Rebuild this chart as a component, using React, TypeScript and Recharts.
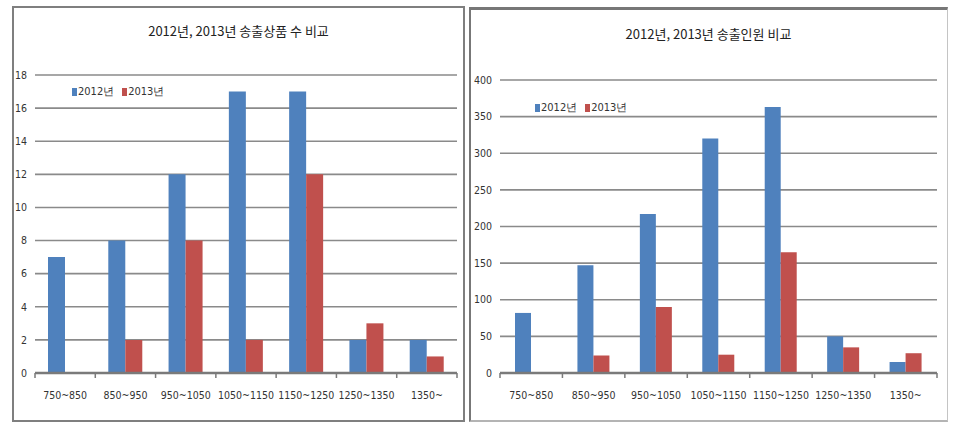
import React from 'react'
import { BarChart, Bar, XAxis, YAxis, CartesianGrid } from 'recharts'

const BLUE = '#4F81BD'
const RED = '#C0504D'
const GRID = '#8a8a8a'
const AXIS = '#7a7a7a'
const TEXT = '#333333'
const TICK_FONT = '"DejaVu Sans Condensed", "Liberation Sans Narrow", sans-serif'
const KR_FONT = '"Noto Sans CJK KR", sans-serif'

const categories = ['750~850', '850~950', '950~1050', '1050~1150', '1150~1250', '1250~1350', '1350~']

const products2012 = [7, 8, 12, 17, 17, 2, 2]
const products2013 = [0, 2, 8, 2, 12, 3, 1]
const productTicks = [0, 2, 4, 6, 8, 10, 12, 14, 16, 18]

const people2012 = [82, 147, 217, 320, 363, 50, 15]
const people2013 = [0, 24, 90, 25, 165, 35, 27]
const peopleTicks = [0, 50, 100, 150, 200, 250, 300, 350, 400]

const seriesNames = ['2012년', '2013년']

function buildRows(a: number[], b: number[]) {
  return categories.map((name, i) => ({ name, y2012: a[i], y2013: b[i] }))
}

function CategoryTick(props: any) {
  const { x, y, payload, index, visibleTicksCount } = props
  const off = payload?.offset ?? 0
  return (
    <g>
      <line x1={x - off} x2={x - off} y1={y} y2={y + 5} stroke={AXIS} strokeWidth={1.5} />
      {index === visibleTicksCount - 1 && (
        <line x1={x + off} x2={x + off} y1={y} y2={y + 5} stroke={AXIS} strokeWidth={1.5} />
      )}
      <text x={x} y={y + 26} textAnchor="middle" fontSize={10.5} fill={TEXT} fontFamily={TICK_FONT}>
        {payload.value}
      </text>
    </g>
  )
}

function MiniLegend({ left, top }: { left: number; top: number }) {
  const colors = [BLUE, RED]
  return (
    <div
      style={{
        position: 'absolute',
        left,
        top,
        display: 'flex',
        gap: 8,
        fontFamily: TICK_FONT,
        fontSize: 11,
        color: TEXT,
        lineHeight: '12px',
      }}
    >
      {seriesNames.map((n, i) => (
        <div key={n} style={{ display: 'flex', alignItems: 'center', gap: 1 }}>
          <span style={{ width: 5, height: 8, background: colors[i], display: 'inline-block' }} />
          <span>{n}</span>
        </div>
      ))}
    </div>
  )
}

interface PanelProps {
  left: number
  top: number
  width: number
  height: number
  title: string
  titleTop: number
  rows: Record<string, unknown>[]
  domainMax: number
  ticks: number[]
  yWidth: number
  margin: { top: number; right: number; bottom: number; left: number }
  barSize: number
  legend: { left: number; top: number }
  boxStyle: React.CSSProperties
}

function Panel(p: PanelProps) {
  return (
    <>
      <div
        style={{
          position: 'absolute',
          left: p.left,
          top: p.top,
          width: p.width,
          height: p.height,
          boxSizing: 'border-box',
          ...p.boxStyle,
        }}
      />
      <div style={{ position: 'absolute', left: p.left, top: p.top, width: p.width, height: p.height }}>
        <div
          style={{
            position: 'absolute',
            top: p.titleTop,
            left: 0,
            width: p.width,
            textAlign: 'center',
            fontFamily: KR_FONT,
            fontSize: 13,
            color: '#222',
          }}
        >
          {p.title}
        </div>
        <BarChart width={p.width} height={p.height} data={p.rows} margin={p.margin} barGap={0}>
          <CartesianGrid vertical={false} stroke={GRID} strokeWidth={1.6} />
          <XAxis
            dataKey="name"
            tick={<CategoryTick />}
            tickLine={false}
            tickSize={0}
            tickMargin={0}
            axisLine={{ stroke: AXIS, strokeWidth: 2.5 }}
            interval={0}
            height={30}
          />
          <YAxis
            domain={[0, p.domainMax]}
            ticks={p.ticks}
            width={p.yWidth}
            axisLine={false}
            tickLine={false}
            tickSize={0}
            tickMargin={8}
            interval={0}
            tick={{ fontSize: 10.5, fill: TEXT, fontFamily: TICK_FONT }}
          />
          <Bar dataKey="y2012" fill={BLUE} barSize={p.barSize} isAnimationActive={false} />
          <Bar dataKey="y2013" fill={RED} barSize={p.barSize} isAnimationActive={false} />
        </BarChart>
        <MiniLegend left={p.legend.left} top={p.legend.top} />
      </div>
    </>
  )
}

export default function App() {
  return (
    <div style={{ position: 'absolute', left: 0, top: 0, width: 960, height: 441, background: '#fff' }}>
      <Panel
        left={12}
        top={6}
        width={453}
        height={416}
        title="2012년, 2013년 송출상품 수 비교"
        titleTop={15}
        rows={buildRows(products2012, products2013)}
        domainMax={18}
        ticks={productTicks}
        yWidth={23}
        margin={{ top: 69, right: 8, bottom: 19, left: 0 }}
        barSize={17}
        legend={{ left: 60, top: 80 }}
        boxStyle={{ border: '2px solid #7f7f7f' }}
      />
      <Panel
        left={469}
        top={7}
        width={479}
        height={415}
        title="2012년, 2013년 송출인원 비교"
        titleTop={17}
        rows={buildRows(people2012, people2013)}
        domainMax={400}
        ticks={peopleTicks}
        yWidth={31}
        margin={{ top: 73, right: 11, bottom: 19, left: 0 }}
        barSize={16}
        legend={{ left: 66, top: 95 }}
        boxStyle={{
          borderTop: '3px solid #777',
          borderLeft: '2px solid #777',
          borderRight: '1px solid #c4c4c4',
          borderBottom: '2px solid #b4b4b4',
        }}
      />
    </div>
  )
}
